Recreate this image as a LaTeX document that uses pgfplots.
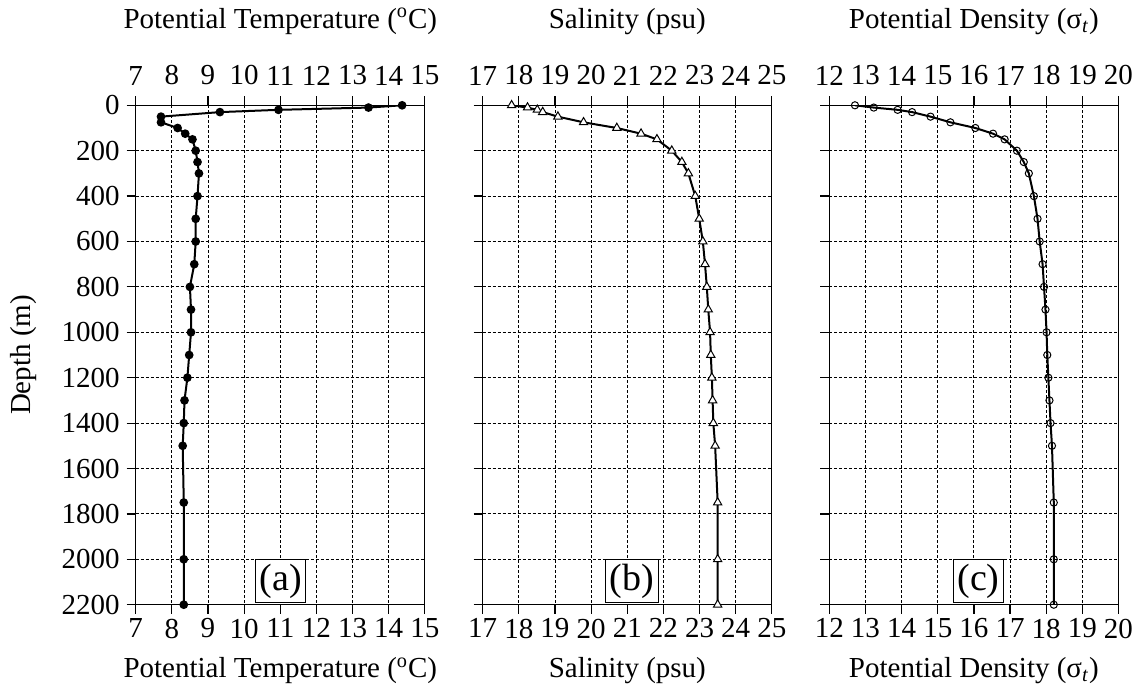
\documentclass[border=0pt]{standalone}
\usepackage{fontspec}
\setmainfont{Liberation Serif}
\usepackage{pgfplots}
\pgfplotsset{compat=1.18}
\usepackage{pgfplotstable}

\pgfplotstableread{
v d
14.37 0
13.44 10
10.95 20
9.33 30
7.70 50
7.70 75
8.16 100
8.37 125
8.57 150
8.66 200
8.71 250
8.75 300
8.71 400
8.66 500
8.66 600
8.62 700
8.50 800
8.53 900
8.53 1000
8.48 1100
8.43 1200
8.35 1300
8.33 1400
8.30 1500
8.33 1750
8.33 2000
8.33 2200
}\temptab

\pgfplotstableread{
v d
17.80 0
18.24 10
18.51 20
18.66 30
19.08 50
19.79 75
20.71 100
21.38 125
21.82 150
22.23 200
22.51 250
22.69 300
22.88 400
22.99 500
23.09 600
23.15 700
23.20 800
23.24 900
23.29 1000
23.31 1100
23.34 1200
23.36 1300
23.38 1400
23.43 1500
23.50 1750
23.50 2000
23.50 2200
}\saltab

\pgfplotstableread{
v d
12.71 0
13.23 10
13.89 20
14.29 30
14.80 50
15.35 75
16.04 100
16.53 125
16.85 150
17.19 200
17.38 250
17.52 300
17.66 400
17.76 500
17.82 600
17.90 700
17.94 800
17.98 900
18.01 1000
18.03 1100
18.06 1200
18.09 1300
18.12 1400
18.16 1500
18.21 1750
18.21 2000
18.21 2200
}\dentab

\pgfplotsset{
  basepanel/.style={
    scale only axis, width=144.6pt, height=249.7pt,
    anchor=south west,
    y dir=reverse, ymin=0, ymax=2200, ytick={0,200,...,2200},
    tick align=outside, major tick length=4.5pt,
    /pgf/number format/assume math mode=true,
    /pgf/number format/1000 sep={},
    tick label style={font=\fontsize{14.5}{17}\selectfont},
    label style={font=\fontsize{14.5}{17}\selectfont},
  },
  panel/.style={
    basepanel,
    xtick pos=both, ytick pos=left,
    xticklabel pos=lower,
    grid=major,
    major grid style={black, line width=0.45pt, dash pattern=on 1.5pt off 1pt},
    axis line style={line width=0.6pt},
    tick style={black, line width=0.6pt},
    xticklabel style={yshift=1pt},
    xlabel style={at={(axis description cs:0.5,0)}, anchor=center, yshift=-33pt},
  },
  toppanel/.style={
    basepanel,
    axis y line=none, axis x line*=top,
    x axis line style={draw=none},
    xtick style={draw=none},
    xticklabel style={yshift=2pt},
    xlabel style={at={(axis description cs:0.5,1)}, anchor=center, yshift=42pt},
  },
  curve/.style={black, line width=1pt},
}

\begin{document}
\begin{tikzpicture}[font=\fontsize{14.5}{17}\selectfont]
\path[use as bounding box] (-67.85pt,-42.15pt) rectangle (502.15pt,302.35pt);

% ---------------- Panel (a)
\begin{axis}[panel, at={(0pt,0pt)},
  xmin=7, xmax=15, xtick={7,...,15},
  xlabel={Potential Temperature (\textsuperscript{o}C)},
  ylabel={Depth (m)},
  ylabel style={at={(axis description cs:-0.3875,0.5)}, anchor=center, rotate=0},
]
\addplot[curve, mark=*, mark size=1.65pt, mark options={solid, fill=black}] table[x=v, y=d] {\temptab};
\node[draw, line width=0.5pt, fill=white, inner sep=2pt, anchor=south,
  font=\fontsize{19}{21}\selectfont] at (axis description cs:0.502,0.004) {(a)};
\end{axis}
\begin{axis}[toppanel, at={(0pt,0pt)},
  xmin=7, xmax=15, xtick={7,...,15},
  xlabel={Potential Temperature (\textsuperscript{o}C)},
]
\end{axis}

% ---------------- Panel (b)
\begin{axis}[panel, at={(173.5pt,0pt)},
  xmin=17, xmax=25, xtick={17,...,25},
  yticklabels={},
  xlabel={Salinity (psu)},
]
\addplot[curve, mark=triangle*, mark size=2.4pt, mark options={solid, fill=white, line width=0.5pt}] table[x=v, y=d] {\saltab};
\node[draw, line width=0.5pt, fill=white, inner sep=2pt, anchor=south,
  font=\fontsize{19}{21}\selectfont] at (axis description cs:0.516,0.004) {(b)};
\end{axis}
\begin{axis}[toppanel, at={(173.5pt,0pt)},
  xmin=17, xmax=25, xtick={17,...,25},
  xlabel={Salinity (psu)},
]
\end{axis}

% ---------------- Panel (c)
\begin{axis}[panel, at={(346.8pt,0pt)},
  xmin=12, xmax=20, xtick={12,...,20},
  yticklabels={},
  xlabel={Potential Density (σ\textsubscript{\textit{t}})},
]
\addplot[curve, mark=o, mark size=1.8pt, mark options={solid, fill=white, line width=0.5pt}] table[x=v, y=d] {\dentab};
\node[draw, line width=0.5pt, fill=white, inner sep=2pt, anchor=south,
  font=\fontsize{19}{21}\selectfont] at (axis description cs:0.516,0.004) {(c)};
\end{axis}
\begin{axis}[toppanel, at={(346.8pt,0pt)},
  xmin=12, xmax=20, xtick={12,...,20},
  xlabel={Potential Density (σ\textsubscript{\textit{t}})},
]
\end{axis}
\end{tikzpicture}
\end{document}
